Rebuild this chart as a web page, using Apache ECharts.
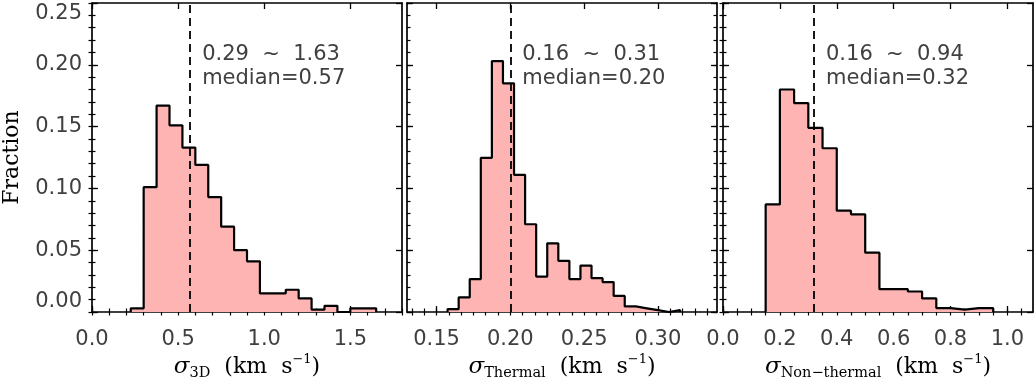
<!DOCTYPE html>
<html>
<head>
<meta charset="utf-8">
<script src="https://cdn.jsdelivr.net/npm/echarts@6/dist/echarts.min.js"></script>
<style>html,body{margin:0;padding:0;background:#fff;}#c{width:1036px;height:378px;}</style>
</head>
<body>
<div id="c"></div>
<script>
// ---- data ----
const frac3D = [0.003, 0.101, 0.167, 0.151, 0.133, 0.119, 0.093, 0.069, 0.050, 0.041, 0.015, 0.015, 0.018, 0.011, 0.002, 0.005, 0, 0.003, 0.003];
const bin3DStart = 0.225, bin3DWidth = 0.075;
const fracTh = [0.0024, 0.0118, 0.0266, 0.1247, 0.203, 0.185, 0.111, 0.071, 0.0287, 0.0556, 0.0414, 0.0266, 0.0376, 0.0274, 0.0242, 0.013, 0.0045, 0.003, 0.0015, 0, 0.0015];
const binThStart = 0.1575, binThWidth = 0.0075;
const fracNT = [0.087, 0.180, 0.169, 0.149, 0.1325, 0.082, 0.079, 0.048, 0.0185, 0.0185, 0.0166, 0.011, 0.0032, 0.0019, 0.0032, 0.0032];
const binNTStart = 0.15, binNTWidth = 0.05;
const medians = [0.57, 0.20, 0.32];
const ranges = ['0.29  ~  1.63', '0.16  ~  0.31', '0.16  ~  0.94'];
const medianLabels = ['median=0.57', 'median=0.20', 'median=0.32'];
const xRanges = [[0, 1.8], [0.13, 0.34], [0, 1.09]];
const xMajor = [[0, 0.5, 1.0, 1.5], [0.15, 0.20, 0.25, 0.30], [0, 0.2, 0.4, 0.6, 0.8, 1.0]];
const xMinorStep = [0.1, 0.05 / 6, 0.05];
const xDigits = [1, 2, 1];
const yMajor = [0, 0.05, 0.10, 0.15, 0.20, 0.25];
const yMinorStep = 0.01;
const subs = ['3D', 'Thermal', 'Non\u2212thermal'];

function stepValues(lo, hi, step, anchor) {
  const out = [];
  const k0 = Math.ceil((lo - anchor) / step - 1e-6);
  for (let k = k0; anchor + k * step <= hi + 1e-9; k++) out.push(+(anchor + k * step).toFixed(6));
  return out;
}

const hist = [
  {start: bin3DStart, w: bin3DWidth, v: frac3D},
  {start: binThStart, w: binThWidth, v: fracTh},
  {start: binNTStart, w: binNTWidth, v: fracNT}
];

const grids = [
  {left: 92, top: 3, width: 310, height: 309, outerBoundsMode: 'none', containLabel: false},
  {left: 407, top: 3, width: 310, height: 309, outerBoundsMode: 'none', containLabel: false},
  {left: 723, top: 3, width: 310, height: 309, outerBoundsMode: 'none', containLabel: false}
];

const FONT = 'DejaVu Sans';
const SERIF = 'DejaVu Serif';
const LINE = {show: true, onZero: false, lineStyle: {color: '#000', width: 1.7}};
const xAxes = [], yAxes = [], series = [];

for (let g = 0; g < 3; g++) {
  const [mn, mx] = xRanges[g];
  const minor = stepValues(mn, mx, xMinorStep[g], xMajor[g][0]);
  const base = {type: 'value', gridIndex: g, min: mn, max: mx, splitLine: {show: false}};
  xAxes.push(Object.assign({}, base, {
    position: 'bottom', axisLine: LINE,
    axisTick: {show: true, inside: true, length: 6, customValues: xMajor[g], lineStyle: {color: '#000', width: 1.3}},
    axisLabel: {show: true, customValues: xMajor[g], margin: 17, fontFamily: FONT, fontSize: 21, color: '#404040',
      formatter: v => v.toFixed(xDigits[g])},
    name: '{s|\u03c3}{sub|' + subs[g] + '}{t|  (km  s}{sup|\u22121}{t|)}',
    nameLocation: 'middle', nameGap: 41, nameMoveOverlap: false,
    nameTextStyle: {rich: {
      s: {fontFamily: SERIF, fontStyle: 'italic', fontSize: 23, color: '#000', lineHeight: 28, verticalAlign: 'middle'},
      sub: {fontFamily: SERIF, fontSize: 14.5, color: '#000', lineHeight: 16, verticalAlign: 'bottom'},
      t: {fontFamily: SERIF, fontSize: 22, color: '#000', lineHeight: 28, verticalAlign: 'middle'},
      sup: {fontFamily: SERIF, fontSize: 13, color: '#000', lineHeight: 16, verticalAlign: 'top'}
    }}
  }));
  xAxes.push(Object.assign({}, base, {
    position: 'bottom', axisLine: {show: false}, axisLabel: {show: false},
    axisTick: {show: true, inside: true, length: 3.5, customValues: minor, lineStyle: {color: '#000', width: 1.2}}
  }));
  xAxes.push(Object.assign({}, base, {
    position: 'top', axisLine: LINE, axisLabel: {show: false},
    axisTick: {show: true, inside: true, length: 6, customValues: xMajor[g], lineStyle: {color: '#000', width: 1.3}}
  }));
  xAxes.push(Object.assign({}, base, {
    position: 'top', axisLine: {show: false}, axisLabel: {show: false},
    axisTick: {show: true, inside: true, length: 3.5, customValues: minor, lineStyle: {color: '#000', width: 1.2}}
  }));

  const yMinor = stepValues(0, 0.25, yMinorStep, 0);
  const ybase = {type: 'value', gridIndex: g, min: 0, max: 0.25, splitLine: {show: false}};
  yAxes.push(Object.assign({}, ybase, {
    position: 'left', axisLine: LINE,
    axisTick: {show: true, inside: true, length: 6, customValues: yMajor, lineStyle: {color: '#000', width: 1.3}},
    axisLabel: {show: g === 0, customValues: yMajor, margin: 10, fontFamily: FONT, fontSize: 21, color: '#404040',
      formatter: v => v.toFixed(2), verticalAlignMinLabel: 'bottom', verticalAlignMaxLabel: 'top'},
    name: g === 0 ? 'Fraction' : '', nameLocation: 'middle', nameGap: 69, nameRotate: 90, nameMoveOverlap: false,
    nameTextStyle: {fontFamily: SERIF, fontSize: 22, color: '#000'}
  }));
  yAxes.push(Object.assign({}, ybase, {
    position: 'left', axisLine: {show: false}, axisLabel: {show: false},
    axisTick: {show: true, inside: true, length: 3.5, customValues: yMinor, lineStyle: {color: '#000', width: 1.2}}
  }));
  yAxes.push(Object.assign({}, ybase, {
    position: 'right', axisLine: LINE, axisLabel: {show: false},
    axisTick: {show: true, inside: true, length: 6, customValues: yMajor, lineStyle: {color: '#000', width: 1.3}}
  }));
  yAxes.push(Object.assign({}, ybase, {
    position: 'right', axisLine: {show: false}, axisLabel: {show: false},
    axisTick: {show: true, inside: true, length: 3.5, customValues: yMinor, lineStyle: {color: '#000', width: 1.2}}
  }));

  const h = hist[g];
  const data = [[h.start, 0]];
  h.v.forEach((v, i) => data.push([h.start + i * h.w, v]));
  data.push([h.start + h.v.length * h.w, 0]);
  series.push({
    type: 'line', xAxisIndex: g * 4, yAxisIndex: g * 4, step: 'end', data: data,
    symbol: 'none', silent: true, animation: false,
    lineStyle: {color: '#000', width: 2.2},
    areaStyle: {color: '#ffb4b4', opacity: 1},
    markLine: {silent: true, symbol: 'none', animation: false, label: {show: false},
      lineStyle: {color: '#000', width: 1.8, type: [8, 5]},
      data: [{xAxis: medians[g]}]}
  });
}

const chart = echarts.init(document.getElementById('c'), null, {renderer: 'canvas'});
chart.setOption({
  animation: false,
  backgroundColor: '#fff',
  grid: grids,
  xAxis: xAxes,
  yAxis: yAxes,
  series: series
});

const graphics = [];
for (let g = 0; g < 3; g++) {
  const px = chart.convertToPixel({xAxisIndex: g * 4}, medians[g]);
  graphics.push({type: 'text', x: px + 12, y: 65, silent: true,
    style: {text: ranges[g], font: '21px "DejaVu Sans"', fill: '#404040', verticalAlign: 'bottom'}});
  graphics.push({type: 'text', x: px + 12, y: 89, silent: true,
    style: {text: medianLabels[g], font: '21px "DejaVu Sans"', fill: '#404040', verticalAlign: 'bottom'}});
}
chart.setOption({graphic: graphics});
</script>
</body>
</html>
